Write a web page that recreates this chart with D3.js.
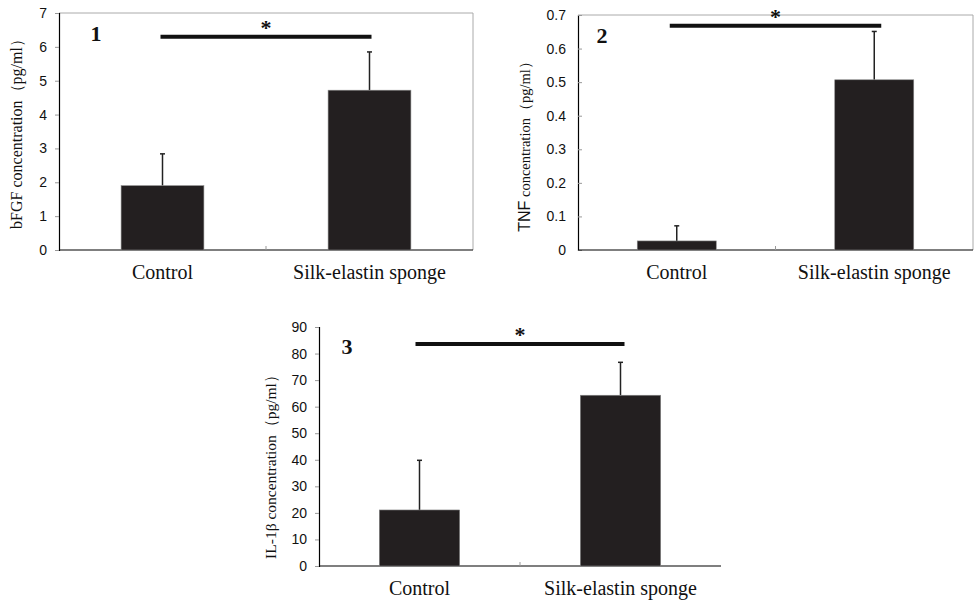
<!DOCTYPE html>
<html>
<head>
<meta charset="utf-8">
<script src="https://cdn.jsdelivr.net/npm/d3@7"></script>
<style>
  body { margin: 0; background: #fff; }
  svg { display: block; }
</style>
</head>
<body>
<script>
const width = 974;
const height = 603;

// data
const categories = ["Control", "Silk-elastin sponge"];
const bfgfMean = [1.9, 4.72];
const bfgfSd = [0.94, 1.13];
const bfgfTicks = [0, 1, 2, 3, 4, 5, 6, 7];
const tnfMean = [0.027, 0.507];
const tnfSd = [0.045, 0.144];
const tnfTicks = [0, 0.1, 0.2, 0.3, 0.4, 0.5, 0.6, 0.7];
const il1bMean = [21.1, 64.3];
const il1bSd = [18.7, 12.4];
const il1bTicks = [0, 10, 20, 30, 40, 50, 60, 70, 80, 90];

const svg = d3.select("body")
    .append("svg")
    .attr("width", width)
    .attr("height", height);

const serif = "'Liberation Serif', 'Times New Roman', serif";
const sans = "'Liberation Sans', Arial, sans-serif";

function drawPanel(o) {
    const g = svg.append("g");
    const x = d3.scaleBand()
        .domain(categories)
        .range([o.left, o.right])
        .paddingInner(0.6)
        .paddingOuter(0.3);
    const y = d3.scaleLinear()
        .domain([0, d3.max(o.ticks)])
        .range([o.bottom, o.top]);

    // 上と右の薄い枠
    if (o.frame) {
        g.append("path")
            .attr("d", `M${o.left},${o.top}H${o.right}V${o.bottom}`)
            .attr("fill", "none")
            .attr("stroke", "#aaa")
            .attr("stroke-width", 1);
    }

    // y軸
    const yAxis = g.append("g")
        .attr("transform", `translate(${o.left},0)`)
        .call(d3.axisLeft(y).tickValues(o.ticks)
            .tickSize(o.tickIn ? -4 : 4)
            .tickPadding(o.tickIn ? 12 : 8)
            .tickFormat(o.fmt));
    yAxis.select(".domain").attr("stroke", "#000").attr("stroke-width", 1.2);
    yAxis.selectAll(".tick line").attr("stroke", "#999");
    yAxis.selectAll(".tick text")
        .attr("font-family", sans)
        .attr("font-size", o.tickFont)
        .attr("fill", "#111");

    // x軸と中央の目盛り
    g.append("line")
        .attr("x1", o.left).attr("x2", o.right)
        .attr("y1", o.bottom).attr("y2", o.bottom)
        .attr("stroke", "#000").attr("stroke-width", 1.2);
    g.append("line")
        .attr("x1", (o.left + o.right) / 2).attr("x2", (o.left + o.right) / 2)
        .attr("y1", o.bottom).attr("y2", o.bottom - 4)
        .attr("stroke", "#999");

    // エラーバー
    const data = categories.map((c, i) => ({ c, m: o.mean[i], sd: o.sd[i] }));
    g.selectAll(".err")
        .data(data)
        .enter()
        .append("line")
        .attr("x1", d => x(d.c) + x.bandwidth() / 2)
        .attr("x2", d => x(d.c) + x.bandwidth() / 2)
        .attr("y1", d => y(d.m))
        .attr("y2", d => y(d.m + d.sd))
        .attr("stroke", "#222")
        .attr("stroke-width", 1.5);
    g.selectAll(".cap")
        .data(data)
        .enter()
        .append("line")
        .attr("x1", d => x(d.c) + x.bandwidth() / 2 - 2.5)
        .attr("x2", d => x(d.c) + x.bandwidth() / 2 + 2.5)
        .attr("y1", d => y(d.m + d.sd))
        .attr("y2", d => y(d.m + d.sd))
        .attr("stroke", "#222")
        .attr("stroke-width", 1.5);

    // 棒
    g.selectAll(".bar")
        .data(data)
        .enter()
        .append("rect")
        .attr("x", d => x(d.c))
        .attr("y", d => y(d.m))
        .attr("width", x.bandwidth())
        .attr("height", d => y(0) - y(d.m))
        .attr("fill", "#231f20")
        .attr("stroke", "#888")
        .attr("stroke-width", 0.6);

    // カテゴリ名
    g.selectAll(".cat")
        .data(categories)
        .enter()
        .append("text")
        .attr("x", d => x(d) + x.bandwidth() / 2)
        .attr("y", o.bottom + 29)
        .attr("text-anchor", "middle")
        .attr("font-family", serif)
        .attr("font-size", 20)
        .attr("fill", "#111")
        .text(d => d);

    // 有意差の線
    const cx0 = x(categories[0]) + x.bandwidth() / 2 - o.sigPad;
    const cx1 = x(categories[1]) + x.bandwidth() / 2 + o.sigPad;
    g.append("line")
        .attr("x1", cx0).attr("x2", cx1)
        .attr("y1", y(o.sig)).attr("y2", y(o.sig))
        .attr("stroke", "#111")
        .attr("stroke-width", 4);
    g.append("text")
        .attr("x", (cx0 + cx1) / 2)
        .attr("y", y(o.sig) - 2)
        .attr("text-anchor", "middle")
        .attr("font-family", serif)
        .attr("font-weight", "bold")
        .attr("font-size", 22)
        .attr("fill", "#111")
        .text("*");

    // パネル番号
    g.append("text")
        .attr("x", o.numX)
        .attr("y", o.numY)
        .attr("text-anchor", "middle")
        .attr("font-family", serif)
        .attr("font-weight", "bold")
        .attr("font-size", 22)
        .attr("fill", "#111")
        .text(o.num);

    // y軸タイトル
    const t = g.append("text")
        .attr("transform", `translate(${o.titleX},${o.titleY}) rotate(-90)`)
        .attr("text-anchor", "middle")
        .attr("font-family", serif)
        .attr("font-size", o.titleFont)
        .attr("fill", "#111");
    o.title.forEach(p => {
        t.append("tspan")
            .attr("font-family", p.sans ? sans : serif)
            .attr("font-size", p.size || o.titleFont)
            .text(p.text);
    });
}

drawPanel({
    left: 59, right: 473, top: 13, bottom: 250,
    ticks: bfgfTicks, mean: bfgfMean, sd: bfgfSd, fmt: d3.format("d"),
    frame: true, tickIn: false, tickFont: 14,
    sig: 6.3, sigPad: 2, num: "1", numX: 96, numY: 41,
    title: [{ text: "bFGF concentration（pg/ml）" }],
    titleX: 22, titleY: 130, titleFont: 16
});

drawPanel({
    left: 578, right: 973, top: 15, bottom: 250,
    ticks: tnfTicks, mean: tnfMean, sd: tnfSd, fmt: d3.format(".1~f"),
    frame: true, tickIn: true, tickFont: 14,
    sig: 0.668, sigPad: 7, num: "2", numX: 602, numY: 43,
    title: [{ text: "TNF", sans: true, size: 16 }, { text: "  concentration（pg/ml）" }],
    titleX: 530, titleY: 143, titleFont: 14.5
});

drawPanel({
    left: 319, right: 721, top: 327, bottom: 566,
    ticks: il1bTicks, mean: il1bMean, sd: il1bSd, fmt: d3.format("d"),
    frame: false, tickIn: false, tickFont: 14,
    sig: 83.6, sigPad: 4, num: "3", numX: 347, numY: 354,
    title: [{ text: "IL-1β concentration（pg/ml）" }],
    titleX: 276, titleY: 463, titleFont: 15.5
});
</script>
</body>
</html>
